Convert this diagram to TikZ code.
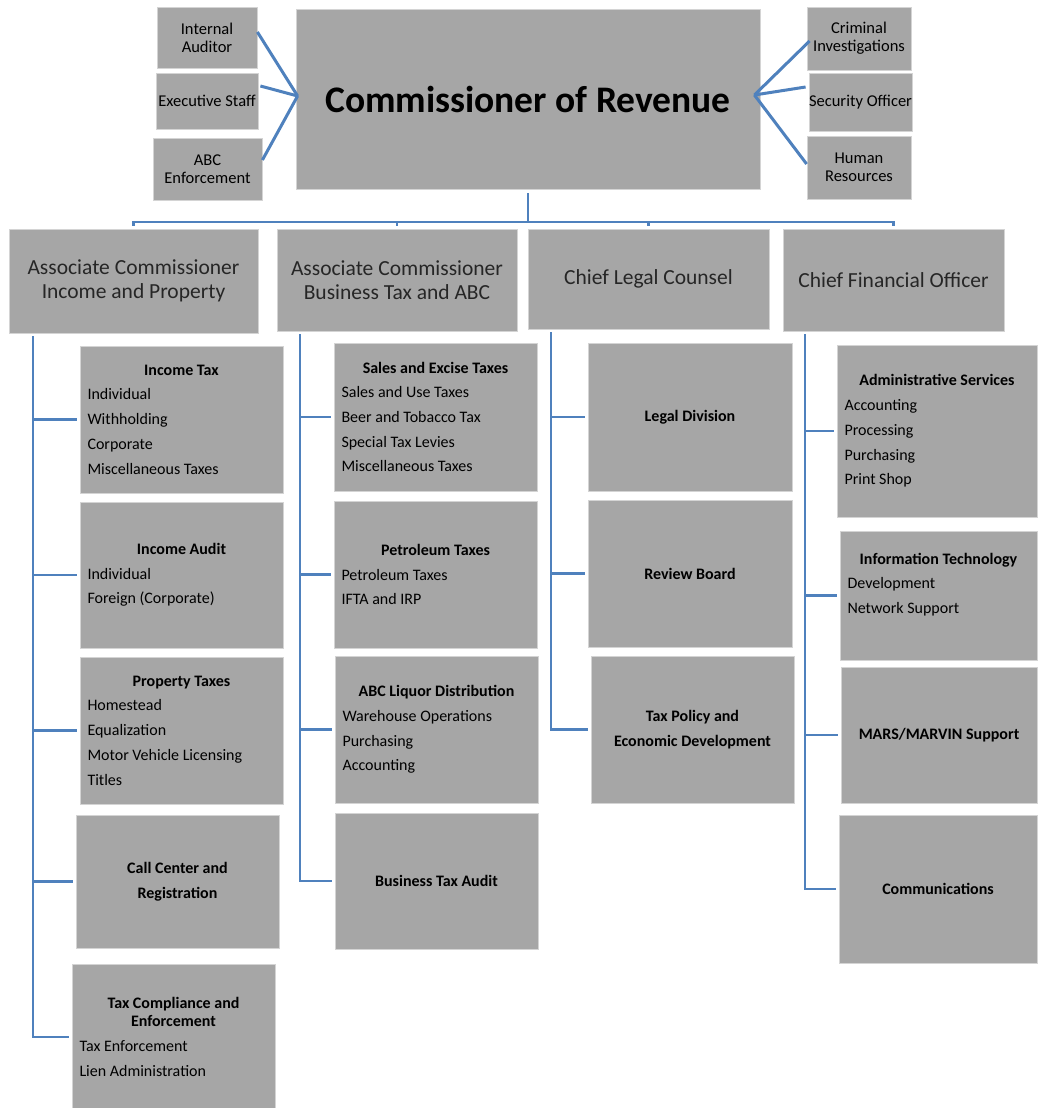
\documentclass[tikz,border=0pt]{standalone}
\usepackage{fontspec}
\setmainfont{Carlito}
\definecolor{boxgray}{HTML}{A6A6A6}
\definecolor{boxedge}{HTML}{D4D4D4}
\definecolor{linkblue}{HTML}{4F81BD}
\begin{document}
\begin{tikzpicture}[x=1pt,y=-1pt,
  boxdecorate/.style={shape=rectangle,fill=boxgray,draw=boxedge,line width=0.8pt,inner sep=0pt,text=black},
  topdecorate/.style={boxdecorate,font=\fontsize{37.5}{40}\selectfont\bfseries},
  sidedecorate/.style={boxdecorate,align=flush center,font=\fontsize{16.5}{18}\selectfont},
  headdecorate/.style={boxdecorate,align=flush center,font=\fontsize{21.5}{24}\selectfont,text=black!85},
  unitdecorate/.style={boxdecorate,align=flush center,font=\fontsize{16}{24.7}\selectfont\bfseries},
  listdecorate/.style={boxdecorate,align=flush left,inner xsep=7.5pt,font=\fontsize{16}{24.7}\selectfont},
  fandecorate/.style={line width=3pt,draw=linkblue},
  treedecorate/.style={line width=2.2pt,draw=linkblue}]
\useasboundingbox (0,0) rectangle (1037,1108);
% top boxes
\node (comm) at (528,99) [topdecorate,minimum width=464pt,minimum height=180pt] {Commissioner of Revenue};
\node (ia) at (207,37.5) [sidedecorate,minimum width=100pt,minimum height=61pt] {Internal\\Auditor};
\node (es) at (207,101) [sidedecorate,minimum width=102pt,minimum height=56pt] {Executive Staff};
\node (abce) at (207.5,169) [sidedecorate,minimum width=109pt,minimum height=62pt] {ABC\\Enforcement};
\node (ci) at (859,38.5) [sidedecorate,minimum width=104pt,minimum height=63pt] {Criminal\\Investigations};
\node (so) at (860.5,102) [sidedecorate,minimum width=103pt,minimum height=58pt] {Security Officer};
\node (hr) at (859,167.5) [sidedecorate,minimum width=104pt,minimum height=63pt] {Human\\Resources};
% second level
\node (aip) at (133.5,281) [headdecorate,minimum width=249pt,minimum height=104pt] {Associate Commissioner\\Income and Property};
\node (abt) at (397,280) [headdecorate,minimum width=240pt,minimum height=102pt] {Associate Commissioner\\Business Tax and ABC};
\node (clc) at (648.5,279) [headdecorate,minimum width=241pt,minimum height=100pt] {Chief Legal Counsel};
\node (cfo) at (893.5,280) [headdecorate,minimum width=221pt,minimum height=102pt] {Chief Financial Officer};
% income and property
\node (it) at (181.5,419.5) [listdecorate,text width=188pt,minimum height=147pt]
  {\hfill\textbf{Income Tax}\hfill\null\\Individual\\Withholding\\Corporate\\Miscellaneous Taxes};
\node (iau) at (181.5,575) [listdecorate,text width=188pt,minimum height=146pt]
  {\hfill\textbf{Income Audit}\hfill\null\\Individual\\Foreign (Corporate)};
\node (pt) at (181.5,730.5) [listdecorate,text width=188pt,minimum height=147pt]
  {\hfill\textbf{Property Taxes}\hfill\null\\Homestead\\Equalization\\Motor Vehicle Licensing\\Titles};
\node (cc) at (177.5,881.5) [unitdecorate,minimum width=203pt,minimum height=133pt] {Call Center and\\Registration};
\node (tce) at (173.5,1037) [listdecorate,text width=188pt,minimum height=146pt]
  {\hfill\textbf{Tax Compliance and}\hfill\null\\[-6.7pt]\hfill\textbf{Enforcement}\hfill\null\\Tax Enforcement\\Lien Administration};
% business tax and abc
\node (set) at (435.5,417) [listdecorate,text width=188pt,minimum height=148pt]
  {\hfill\textbf{Sales and Excise Taxes}\hfill\null\\Sales and Use Taxes\\Beer and Tobacco Tax\\Special Tax Levies\\Miscellaneous Taxes};
\node (pet) at (435.5,574.5) [listdecorate,text width=188pt,minimum height=147pt]
  {\hfill\textbf{Petroleum Taxes}\hfill\null\\Petroleum Taxes\\IFTA and IRP};
\node (abcl) at (436.5,729.5) [listdecorate,text width=188pt,minimum height=147pt]
  {\hfill\textbf{ABC Liquor Distribution}\hfill\null\\Warehouse Operations\\Purchasing\\Accounting};
\node (bta) at (436.5,881) [unitdecorate,minimum width=203pt,minimum height=136pt] {Business Tax Audit};
% legal
\node (ld) at (690,417) [unitdecorate,minimum width=204pt,minimum height=148pt] {Legal Division};
\node (rb) at (690,573.5) [unitdecorate,minimum width=204pt,minimum height=147pt] {Review Board};
\node (tp) at (692.5,729.5) [unitdecorate,minimum width=203pt,minimum height=147pt] {Tax Policy and\\Economic Development};
% financial
\node (adm) at (937,431) [listdecorate,text width=185pt,minimum height=172pt]
  {\hfill\textbf{Administrative Services}\hfill\null\\Accounting\\Processing\\Purchasing\\Print Shop};
\node (itc) at (938.5,595.5) [listdecorate,text width=182pt,minimum height=129pt]
  {\hfill\textbf{Information Technology}\hfill\null\\Development\\Network Support\\\null};
\node (mars) at (939,735) [unitdecorate,minimum width=196pt,minimum height=136pt] {MARS/MARVIN Support};
\node (com) at (938,889) [unitdecorate,minimum width=198pt,minimum height=148pt] {Communications};
% fan lines
\path
([yshift=5.5]ia.east) edge[fandecorate] ([xshift=2,yshift=3]comm.west)
([xshift=2,yshift=15]es.east) edge[fandecorate] ([xshift=2,yshift=3]comm.west)
([yshift=9]abce.east) edge[fandecorate] ([xshift=2,yshift=3]comm.west)
([xshift=3,yshift=-2.5]ci.west) edge[fandecorate] ([xshift=-6,yshift=4]comm.east)
([xshift=-3,yshift=15]so.west) edge[fandecorate] ([xshift=-6,yshift=4]comm.east)
([yshift=3.5]hr.west) edge[fandecorate] ([xshift=-6,yshift=4]comm.east);
% tree lines
\draw[treedecorate] ([yshift=-4]comm.south) -- ([yshift=7]comm.south |- clc.north);
\draw[treedecorate] ([yshift=3]aip.north) |- ([yshift=7]cfo.north) -- ([yshift=3]cfo.north);
\draw[treedecorate] ([yshift=3]abt.north) -- ([yshift=7]abt.north);
\draw[treedecorate] ([yshift=3]clc.north) -- ([yshift=7]clc.north);
\coordinate (t1) at ([xshift=24,yshift=-3]aip.south west);
\coordinate (t2) at ([xshift=23,yshift=-3]abt.south west);
\coordinate (t3) at ([xshift=23,yshift=-3]clc.south west);
\coordinate (t4) at ([xshift=22,yshift=-3]cfo.south west);
\draw[treedecorate] (t1) |- ([xshift=-3]tce.west);
\draw[treedecorate] (t2) |- ([xshift=-3]bta.west);
\draw[treedecorate] (t3) |- ([xshift=-3]tp.west);
\draw[treedecorate] (t4) |- ([xshift=-3]com.west);
\path
(t1 |- it.west) edge[treedecorate] ([xshift=-3]it.west)
(t1 |- iau.west) edge[treedecorate] ([xshift=-3]iau.west)
(t1 |- pt.west) edge[treedecorate] ([xshift=-3]pt.west)
(t1 |- cc.west) edge[treedecorate] ([xshift=-3]cc.west)
(t2 |- set.west) edge[treedecorate] ([xshift=-3]set.west)
(t2 |- pet.west) edge[treedecorate] ([xshift=-3]pet.west)
(t2 |- abcl.west) edge[treedecorate] ([xshift=-3]abcl.west)
(t3 |- ld.west) edge[treedecorate] ([xshift=-3]ld.west)
(t3 |- rb.west) edge[treedecorate] ([xshift=-3]rb.west)
(t4 |- adm.west) edge[treedecorate] ([xshift=-3]adm.west)
(t4 |- itc.west) edge[treedecorate] ([xshift=-3]itc.west)
(t4 |- mars.west) edge[treedecorate] ([xshift=-3]mars.west);
\end{tikzpicture}
\end{document}
